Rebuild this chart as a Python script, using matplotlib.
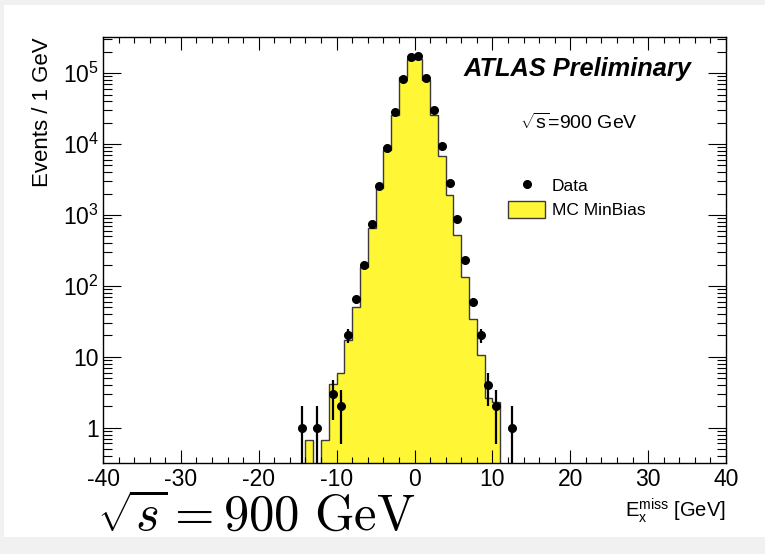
import numpy as np
import matplotlib
matplotlib.use('Agg')
import matplotlib.pyplot as plt
from matplotlib.patches import Rectangle
from matplotlib.ticker import FixedLocator, LogLocator, MultipleLocator, NullFormatter

plt.rcParams['font.family'] = ['Liberation Sans', 'DejaVu Sans']
plt.rcParams['mathtext.fontset'] = 'custom'
plt.rcParams['mathtext.rm'] = 'Liberation Sans'
plt.rcParams['mathtext.it'] = 'Liberation Sans:italic'
plt.rcParams['mathtext.bf'] = 'Liberation Sans:bold'
plt.rcParams['axes.unicode_minus'] = False

# missing E_x in 1 GeV bins, sqrt(s) = 900 GeV
data_centres = [-14.5, -12.5, -10.5, -9.5, -8.5, -7.5, -6.5, -5.5, -4.5, -3.5,
                -2.5, -1.5, -0.5, 0.5, 1.5, 2.5, 3.5, 4.5, 5.5, 6.5,
                7.5, 8.5, 9.5, 10.5, 12.5]
data_counts = [1, 1, 3, 2, 20, 65, 197, 747, 2590, 8730,
               28100, 82000, 171000, 175000, 86500, 30300, 9400, 2800, 879, 234,
               60, 20, 4, 2, 1]

mc_edges = list(range(-14, 12))
mc_counts = [0.68, 0, 0.68, 4.07, 6.0, 17.3, 51, 187, 649, 2380,
             8260, 25700, 87500, 160000, 160000, 80100, 25500, 6790, 1910, 522,
             132, 34, 10.6, 2.65, 2.3]

y_ticks = [1, 10, 100, 1e3, 1e4, 1e5]
y_tick_labels = ['1', '10', r'$10^{2}$', r'$10^{3}$', r'$10^{4}$', r'$10^{5}$']

fig = plt.figure(figsize=(7.65, 5.54), dpi=100)
fig.patch.set_facecolor('#f1f1f1')
fig.add_artist(Rectangle((4 / 765, 17 / 554), 1 - 4 / 765, 532 / 554,
                         transform=fig.transFigure, facecolor='white',
                         edgecolor='none', zorder=-1))
ax = fig.add_axes([103 / 765, 91 / 554, 623 / 765, 426 / 554])

floor = 1e-3
mc = ax.stairs(np.maximum(mc_counts, floor), mc_edges, baseline=floor, fill=True,
               facecolor='#fff735', edgecolor='#3a3a3a', linewidth=1.0,
               label='MC MinBias', zorder=1)
eb = ax.errorbar(data_centres, data_counts, yerr=np.sqrt(data_counts), fmt='o',
                 color='black', ms=5.5, elinewidth=1.6, capsize=0, zorder=3)

ax.set_yscale('log')
ax.set_xlim(-40, 40)
ax.set_ylim(0.318, 3.24e5)

ax.xaxis.set_major_locator(MultipleLocator(10))
ax.xaxis.set_minor_locator(MultipleLocator(2))
ax.yaxis.set_major_locator(FixedLocator(y_ticks))
ax.set_yticklabels(y_tick_labels)
ax.yaxis.set_minor_locator(LogLocator(base=10, subs=range(2, 10)))
ax.yaxis.set_minor_formatter(NullFormatter())

ax.tick_params(which='both', direction='in', top=True, right=True, width=0.8,
               labelsize=16.5)
ax.tick_params(axis='x', which='major', length=9.4, pad=3.5)
ax.tick_params(axis='x', which='minor', length=4.5)
ax.tick_params(axis='y', which='major', length=13, pad=3)
ax.tick_params(axis='y', which='minor', length=6.5)
for s in ax.spines.values():
    s.set_linewidth(1.0)

ax.set_ylabel('Events / 1 GeV', fontsize=16, loc='top')
ax.yaxis.set_label_coords(-0.080, 1.0)
ax.set_xlabel(r'E$_{\mathrm{x}}^{\mathrm{miss}}$ [GeV]', fontsize=14.5, loc='right')
ax.xaxis.set_label_coords(1.0, -0.078)

ax.text(0.945, 0.908, 'ATLAS Preliminary', transform=ax.transAxes, ha='right',
        va='baseline', fontsize=18.3, fontweight='bold', style='italic')
ax.text(0.669, 0.783, r'$\sqrt{\mathrm{s}}$=900 GeV', transform=ax.transAxes,
        ha='left', va='baseline', fontsize=14)

ax.legend([eb[0], mc], ['Data', 'MC MinBias'], loc='upper left',
          bbox_to_anchor=(0.6506, 0.671), frameon=False, fontsize=12.5,
          handlelength=2.1, handleheight=1.1, handletextpad=0.42,
          labelspacing=0.38, borderpad=0, borderaxespad=0)

fig.text(97 / 765, 24 / 554, r'$\sqrt{s} = 900\ \mathrm{GeV}$', ha='left',
         va='baseline', fontsize=36.5, math_fontfamily='cm')

fig.savefig('out.png', dpi=100, facecolor=fig.get_facecolor())
